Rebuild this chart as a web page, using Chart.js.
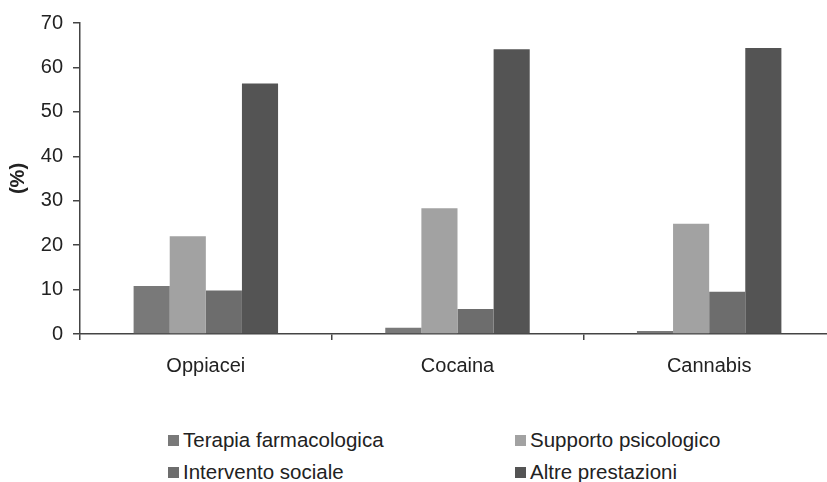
<!DOCTYPE html>
<html>
<head>
<meta charset="utf-8">
<script src="https://cdn.jsdelivr.net/npm/chart.js@4.4.1/dist/chart.umd.min.js"></script>
<style>
  html, body { margin: 0; padding: 0; background: #fff; }
  #wrap { position: relative; width: 827px; height: 482px; overflow: hidden; }
  #box { position: absolute; left: 0; top: 0; width: 836px; height: 400px; }
  #legend { position: absolute; left: 0; top: 0; }
  .item { position: absolute; font: 20.5px "Liberation Sans", Arial, sans-serif; color: #222; white-space: nowrap; line-height: 20px; }
  .item span.sw { display: inline-block; width: 11px; height: 11px; margin-right: 4px; vertical-align: 1px; }
</style>
</head>
<body>
<div id="wrap">
  <div id="box"><canvas id="myChart"></canvas></div>
  <div id="legend"></div>
</div>
<script>
// data
var categories = ['Oppiacei', 'Cocaina', 'Cannabis']
var series_names = ['Terapia farmacologica', 'Supporto psicologico', 'Intervento sociale', 'Altre prestazioni']
var terapia = [10.8, 1.4, 0.7]
var supporto = [22.0, 28.3, 24.8]
var intervento = [9.8, 5.6, 9.5]
var altre = [56.4, 64.1, 64.4]
var y_ticks = [0, 10, 20, 30, 40, 50, 60, 70]

var bar_colors = ['#797979', '#a2a2a2', '#6d6d6d', '#545454']
var series_values = [terapia, supporto, intervento, altre]

function create_chart() {
    var data_set = []
    for (var i = 0; i < series_names.length; i++) {
        data_set.push({
            label: series_names[i],
            data: series_values[i],
            backgroundColor: bar_colors[i],
            borderWidth: 0,
            categoryPercentage: 0.574,
            barPercentage: 1.0
        })
    }
    var font = { family: '"Liberation Sans", Arial, sans-serif', size: 20 }
    var ctx = document.getElementById('myChart').getContext('2d')
    new Chart(ctx, {
        type: 'bar',
        data: { labels: categories, datasets: data_set },
        options: {
            responsive: false,
            animation: false,
            devicePixelRatio: 1,
            layout: { padding: { left: 0, top: 23, right: 1, bottom: 0 } },
            plugins: { legend: { display: false }, tooltip: { enabled: false } },
            scales: {
                x: {
                    grid: { display: true, drawOnChartArea: false, offset: true, tickLength: 6, color: '#444', lineWidth: 1.5 },
                    border: { display: true, color: '#444', width: 1.5 },
                    ticks: { font: font, color: '#222', padding: 14 },
                    afterFit: function (scale) { scale.height = 66 }
                },
                y: {
                    min: 0,
                    max: 70,
                    afterBuildTicks: function (scale) {
                        scale.ticks = y_ticks.map(function (v) { return { value: v } })
                    },
                    grid: { display: true, drawOnChartArea: false, tickLength: 7, color: '#444', lineWidth: 1.5 },
                    border: { display: true, color: '#444', width: 1.5 },
                    ticks: { font: font, color: '#222', padding: 10 },
                    title: { display: true, text: '(%)', font: { family: font.family, size: 20, weight: 'bold' }, color: '#222', padding: { top: 6, bottom: 0 } },
                    afterFit: function (scale) { scale.width = 80 }
                }
            }
        }
    })
}

function create_legend() {
    var pos = [[168, 430], [515, 430], [168, 462], [515, 462]]
    var legend = document.getElementById('legend')
    for (var i = 0; i < series_names.length; i++) {
        var node = document.createElement('div')
        node.className = 'item'
        node.style.left = pos[i][0] + 'px'
        node.style.top = pos[i][1] + 'px'
        var sw = document.createElement('span')
        sw.className = 'sw'
        sw.style.backgroundColor = bar_colors[i]
        node.appendChild(sw)
        node.appendChild(document.createTextNode(series_names[i]))
        legend.appendChild(node)
    }
}

document.getElementById('myChart').width = 836
document.getElementById('myChart').height = 400
create_chart()
create_legend()
</script>
</body>
</html>
